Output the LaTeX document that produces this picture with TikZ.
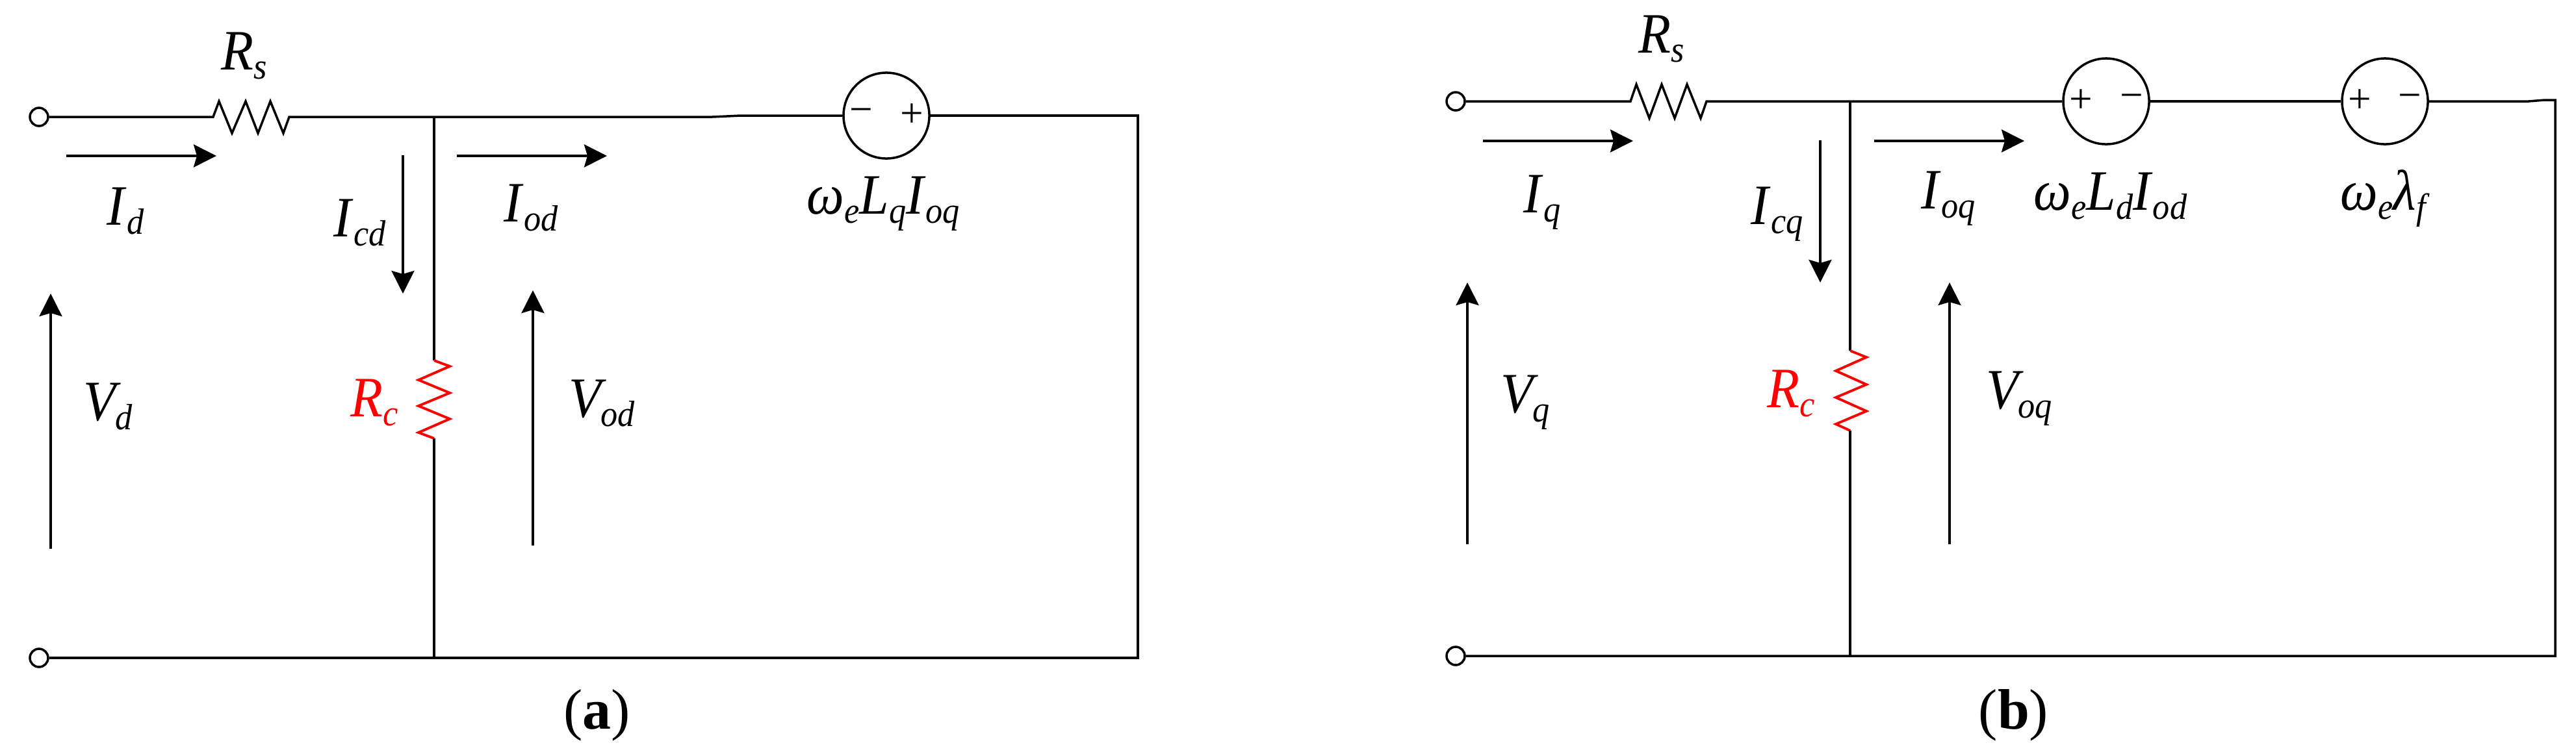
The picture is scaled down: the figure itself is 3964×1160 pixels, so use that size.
\documentclass[tikz,border=0pt]{standalone}
\usepackage{fontspec}
\setmainfont{Liberation Serif}
\newfontfamily\labfont[FakeStretch=0.93]{Liberation Serif}
\usetikzlibrary{arrows.meta}
\newcommand{\lsub}[2]{\textit{#1}\raisebox{-.16em}{\fontsize{16}{16}\selectfont\textit{#2}}}
\newcommand{\vsub}[1]{\textit{V}\kern-.1em\raisebox{-.16em}{\fontsize{16}{16}\selectfont\textit{#1}}}
\tikzset{
  wire/.style={line width=1pt},
  redres/.style={red,line width=1.1pt},
  meas/.style={->,line width=1pt},
  term/.style={draw,circle,line width=1pt,inner sep=0pt,minimum size=0.28cm},
  src/.style={draw,circle,line width=1pt,inner sep=0pt,minimum size=1.32cm},
  lab/.style={inner sep=0pt,anchor=base west,font=\labfont\fontsize{25}{30}\selectfont},
  capt/.style={inner sep=0pt,anchor=base west,font=\fontsize{25}{30}\selectfont},
  sign/.style={inner sep=0pt,font=\fontsize{18}{18}\selectfont},
  >={Stealth[length=0.35cm,width=0.35cm,inset=0.05cm]}
}

\begin{document}
\begin{tikzpicture}[x=0.01cm,y=-0.01cm]
  \useasboundingbox (0,0) rectangle (3964,1160);

  % Circuit a
  \node[term] (a1) at (60,180) {};
  \node[term] (a2) at (60,1013) {};
  \node[src] (aE) at (1364,178) {};
  \node[sign] (aEm) at (1325,178) {−};
  \node[sign] (aEp) at (1403,178) {+};
  \coordinate (aRl) at (328,180);
  \coordinate (aRr) at (445,180);
  \coordinate (aJt) at (668,180);
  \coordinate (aJb) at (668,1013);
  \coordinate (aCt) at (668,555);
  \coordinate (aCb) at (668,675);
  \coordinate (aTr) at (1751,178);
  \coordinate (aBr) at (1751,1013);
  \draw[wire] (a1) -- (aRl) -- (337,156) -- (357,205) -- (378,156) -- (397,205) -- (416,156) -- (436,205) -- (aRr) -- (1096,180) -- (1140,178) -- (aE);
  \draw[wire] (aE) -- (aTr) -- (aBr) -- (a2);
  \draw[wire] (aJt) -- (aCt);
  \draw[redres] (aCt) -- (692,564) -- (644,585) -- (692,605) -- (644,625) -- (692,645) -- (644,666) -- (aCb);
  \draw[wire] (aCb) -- (aJb);
  % arrows of a
  \coordinate (aIa) at (102,240);
  \coordinate (aIb) at (333,240);
  \coordinate (aIc) at (620,239);
  \coordinate (aId) at (620,452);
  \coordinate (aIe) at (703,240);
  \coordinate (aIf) at (934,240);
  \coordinate (aVa) at (78,845);
  \coordinate (aVb) at (78,452);
  \coordinate (aVc) at (820,840);
  \coordinate (aVd) at (820,447);
  \draw[meas] (aIa) -- (aIb);
  \draw[meas] (aIc) -- (aId);
  \draw[meas] (aIe) -- (aIf);
  \draw[meas] (aVa) -- (aVb);
  \draw[meas] (aVc) -- (aVd);
  % labels of a
  \node[lab] (aRs) at (340,107) {\lsub{R}{s}};
  \node[lab] (aId1) at (164,346) {\lsub{I}{d}};
  \node[lab] (aIcd) at (513,364) {\lsub{I}{cd}};
  \node[lab] (aIod) at (775,341) {\lsub{I}{od}};
  \node[lab] (aVd1) at (128,647) {\vsub{d}};
  \node[lab] (aVod) at (875,642) {\vsub{od}};
  \node[lab,red] (aRc) at (539,641) {\lsub{R}{c}};
  \node[lab] (aEl) at (1241,329) {\lsub{ω}{e}\lsub{L}{q}\lsub{I}{oq}};
  \node[capt] (aCap) at (867,1122) {(\textbf{a})};

  % Circuit b
  \node[term] (b1) at (2240,156) {};
  \node[term] (b2) at (2240,1010) {};
  \node[src] (bE) at (3241,156) {};
  \node[sign] (bEp) at (3202,156) {+};
  \node[sign] (bEm) at (3280,156) {−};
  \node[src] (bF) at (3670,156) {};
  \node[sign] (bFp) at (3631,156) {+};
  \node[sign] (bFm) at (3708,156) {−};
  \coordinate (bRl) at (2509,156);
  \coordinate (bRr) at (2626,156);
  \coordinate (bJt) at (2847,156);
  \coordinate (bJb) at (2847,1010);
  \coordinate (bCt) at (2847,540);
  \coordinate (bCb) at (2847,663);
  \coordinate (bTr) at (3932,154);
  \coordinate (bBr) at (3932,1010);
  \draw[wire] (b1) -- (bRl) -- (2518,130) -- (2538,182) -- (2557,130) -- (2577,182) -- (2596,130) -- (2617,182) -- (bRr) -- (bE);
  \draw[wire] (bE) -- (bF);
  \draw[wire] (bF) -- (3891,156) -- (3916,154) -- (bTr) -- (bBr) -- (b2);
  \draw[wire] (bJt) -- (bCt);
  \draw[redres] (bCt) -- (2872,550) -- (2825,571) -- (2872,592) -- (2825,612) -- (2872,633) -- (2825,653) -- (bCb);
  \draw[wire] (bCb) -- (bJb);
  % arrows of b
  \coordinate (bIa) at (2282,217);
  \coordinate (bIb) at (2513,217);
  \coordinate (bIc) at (2801,216);
  \coordinate (bId) at (2801,435);
  \coordinate (bIe) at (2884,217);
  \coordinate (bIf) at (3115,217);
  \coordinate (bVa) at (2258,838);
  \coordinate (bVb) at (2258,435);
  \coordinate (bVc) at (3000,838);
  \coordinate (bVd) at (3000,435);
  \draw[meas] (bIa) -- (bIb);
  \draw[meas] (bIc) -- (bId);
  \draw[meas] (bIe) -- (bIf);
  \draw[meas] (bVa) -- (bVb);
  \draw[meas] (bVc) -- (bVd);
  % labels of b
  \node[lab] (bRs) at (2521,81) {\lsub{R}{s}};
  \node[lab] (bIq) at (2344,327) {\lsub{I}{q}};
  \node[lab] (bIcq) at (2694,345) {\lsub{I}{cq}};
  \node[lab] (bIoq) at (2956,321) {\lsub{I}{oq}};
  \node[lab] (bVq) at (2309,635) {\vsub{q}};
  \node[lab] (bVoq) at (3056,629) {\vsub{oq}};
  \node[lab,red] (bRc) at (2719,627) {\lsub{R}{c}};
  \node[lab] (bEl) at (3129,323) {\lsub{ω}{e}\lsub{L}{d}\lsub{I}{od}};
  \node[lab] (bFl) at (3601,323) {\lsub{ω}{e}\lsub{λ}{f}};
  \node[capt] (bCap) at (3044,1122) {(\textbf{b})};
\end{tikzpicture}
\end{document}
